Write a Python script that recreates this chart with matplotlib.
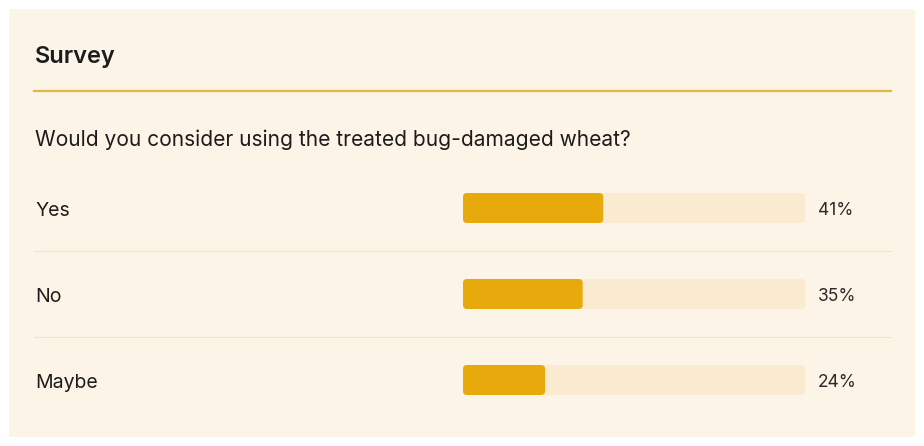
import matplotlib
matplotlib.use("Agg")
import matplotlib.pyplot as plt
from matplotlib.patches import FancyBboxPatch

plt.rcParams['font.family'] = ['Inter', 'DejaVu Sans']

title = "Survey"
question = "Would you consider using the treated bug-damaged wheat?"
categories = ["Yes", "No", "Maybe"]
values = [41, 35, 24]
tick_labels = ["41%", "35%", "24%"]

W, H = 924, 446
fig = plt.figure(figsize=(W / 100, H / 100), dpi=100)
fig.patch.set_facecolor("white")

def fx(px):
    return px / W

def fy(py):
    return 1 - py / H

# card background
card = FancyBboxPatch((fx(9), fy(437)), fx(906), 428 / H,
                      boxstyle="round,pad=0,rounding_size=0.004",
                      transform=fig.transFigure, facecolor="#FCF4E6",
                      edgecolor="none", zorder=-5)
fig.patches.append(card)

fig.text(fx(35), fy(57), title, fontsize=17, fontweight="semibold",
         color="#1c1c1c", va="center", ha="left")
fig.add_artist(plt.Line2D([fx(34), fx(891)], [fy(91), fy(91)],
                          transform=fig.transFigure, color="#E1B746", lw=1.6))
fig.text(fx(35), fy(140), question, fontsize=15.1, color="#1c1c1c",
         va="center", ha="left")

# separators
for py in (251, 337):
    fig.add_artist(plt.Line2D([fx(34), fx(891)], [fy(py), fy(py)],
                              transform=fig.transFigure, color="#F3E3C3", lw=0.8))

# bar axes
left_px, right_px = 463, 805
top_px, bot_px = 165, 423
ax = fig.add_axes([fx(left_px), fy(bot_px), fx(right_px - left_px), (bot_px - top_px) / H])
ax.set_xlim(0, 100)
ax.set_ylim(len(categories) - 0.5, -0.5)
ax.axis("off")
ax.patch.set_alpha(0)

xpx = (right_px - left_px) / 100.0
ypx = (bot_px - top_px) / len(categories)
bh = 30 / ypx
r = 4 / xpx
aspect = xpx / ypx
dy = 2.5 / ypx

bars = ax.barh(range(len(categories)), values, height=bh, color="none")
for i, (b, v) in enumerate(zip(bars, values)):
    y0 = b.get_y()
    track = FancyBboxPatch((0, y0), 100, bh,
                           boxstyle=f"round,pad=0,rounding_size={r}",
                           mutation_aspect=aspect, facecolor="#FAEBD0",
                           edgecolor="none", zorder=1)
    ax.add_patch(track)
    fill = FancyBboxPatch((0, y0), v, bh,
                          boxstyle=f"round,pad=0,rounding_size={r}",
                          mutation_aspect=aspect, facecolor="#E8A90C",
                          edgecolor="none", zorder=2)
    ax.add_patch(fill)
    ax.text(100 + 13 / xpx, i + dy, tick_labels[i], fontsize=12.5, color="#2a2a2a",
            va="center", ha="left", clip_on=False)
    ax.text(-(left_px - 35) / xpx, i + dy, categories[i], fontsize=14, color="#1c1c1c",
            va="center", ha="left", clip_on=False)

fig.savefig("out.png", dpi=100, facecolor="white")
